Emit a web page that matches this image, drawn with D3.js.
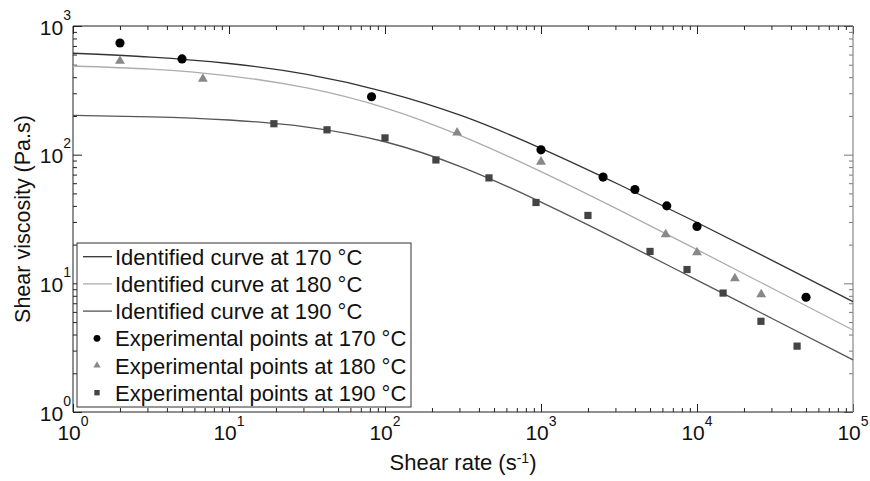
<!DOCTYPE html>
<html>
<head>
<meta charset="utf-8">
<script src="https://cdn.jsdelivr.net/npm/d3@7"></script>
<style>
  body { margin: 0; background: #fff; }
  svg text { font-family: "Liberation Sans", Arial, Helvetica, sans-serif; fill: #111; }
</style>
</head>
<body>
<svg id="chart" width="870" height="481"></svg>
<script>
// Identified (fitted) viscosity curves, sampled every half decade of shear rate
const curveRates = [1, 3.16, 10, 31.6, 100, 316, 1000, 3160, 10000, 31600, 100000];
const curve170 = [614, 573, 511, 420, 308, 199, 112, 58.6, 29.7, 14.7, 7.21];
const curve180 = [489, 462, 410, 330, 231, 138, 73.8, 37.2, 18.3, 8.91, 4.34];
const curve190 = [202, 197, 186, 164, 126, 79.3, 42.8, 21.6, 10.6, 5.19, 2.54];

// Experimental measurements (shear rate in 1/s, viscosity in Pa.s)
const rates170 = [2, 5, 82, 1000, 2500, 4000, 6400, 10000, 50000];
const visc170 = [738, 555, 282, 109, 67, 53.6, 40, 27.7, 7.8];
const rates180 = [2, 6.8, 290, 1000, 6300, 10000, 17500, 25800];
const visc180 = [535, 388, 148, 88, 24, 17.4, 10.9, 8.2];
const rates190 = [19.4, 42.5, 100, 212, 464, 929, 2000, 5000, 8630, 14700, 25700, 43800];
const visc190 = [174, 156, 135, 91, 66, 42.5, 33.7, 17.7, 12.8, 8.4, 5.07, 3.25];

// Decade exponents used for the tick labels
const xTickExps = [0, 1, 2, 3, 4, 5];
const yTickExps = [0, 1, 2, 3];

const legendLabels = [
  "Identified curve at 170 °C",
  "Identified curve at 180 °C",
  "Identified curve at 190 °C",
  "Experimental points at 170 °C",
  "Experimental points at 180 °C",
  "Experimental points at 190 °C"
];

const svg = d3.select("#chart");
const plotLeft = 73, plotRight = 853, plotTop = 26, plotBottom = 412;

const x = d3.scaleLog().domain([1, 1e5]).range([plotLeft, plotRight]);
const y = d3.scaleLog().domain([1, 1e3]).range([plotBottom, plotTop]);

function decadeTicks(lo, hi) {
  const major = [], minor = [];
  for (let e = lo; e <= hi; e++) {
    major.push(Math.pow(10, e));
    if (e < hi) for (let m = 2; m <= 9; m++) minor.push(m * Math.pow(10, e));
  }
  return { major, minor };
}
const xt = decadeTicks(0, 5);
const yt = decadeTicks(0, 3);

// Inward ticks on all four sides
function tickLayer(axisFn, scale, values, size, transform, color) {
  const g = svg.append("g").attr("transform", transform)
    .call(axisFn(scale).tickValues(values).tickSize(-size).tickFormat(""));
  g.select(".domain").remove();
  g.selectAll(".tick line").attr("stroke", color).attr("stroke-width", 1);
}
[[xt.major, 8], [xt.minor, 4]].forEach(([v, s]) => {
  tickLayer(d3.axisBottom, x, v, s, `translate(0,${plotBottom})`, "#222");
  tickLayer(d3.axisTop, x, v, s, `translate(0,${plotTop})`, "#222");
});
[[yt.major, 9], [yt.minor, 4]].forEach(([v, s]) => {
  tickLayer(d3.axisLeft, y, v, s, `translate(${plotLeft},0)`, "#222");
  tickLayer(d3.axisRight, y, v, s, `translate(${plotRight},0)`, "#777");
});

// Plot frame
svg.append("path")
  .attr("d", `M${plotLeft},${plotBottom}V${plotTop}H${plotRight}`)
  .attr("fill", "none").attr("stroke", "#222").attr("stroke-width", 1);
svg.append("path")
  .attr("d", `M${plotLeft},${plotBottom}H${plotRight}`)
  .attr("fill", "none").attr("stroke", "#222").attr("stroke-width", 1.2);
svg.append("path")
  .attr("d", `M${plotRight},${plotTop}V${plotBottom}`)
  .attr("fill", "none").attr("stroke", "#888").attr("stroke-width", 1.2);

// Tick labels as powers of ten
xTickExps.forEach(e => {
  const t = svg.append("text")
    .attr("x", x(Math.pow(10, e))).attr("y", 440)
    .attr("text-anchor", "middle").attr("font-size", 21);
  t.append("tspan").text("10");
  t.append("tspan").attr("font-size", 14).attr("dy", -14).text(e);
});
yTickExps.forEach(e => {
  const t = svg.append("text")
    .attr("x", 71).attr("y", y(Math.pow(10, e)) + 8.5)
    .attr("text-anchor", "end").attr("font-size", 21);
  t.append("tspan").text("10");
  t.append("tspan").attr("font-size", 14).attr("dy", -15).text(e);
});

// Axis titles
const xTitle = svg.append("text")
  .attr("x", (plotLeft + plotRight) / 2).attr("y", 470)
  .attr("text-anchor", "middle").attr("font-size", 22);
xTitle.append("tspan").text("Shear rate (s");
xTitle.append("tspan").attr("font-size", 14).attr("dy", -7).text("-1");
xTitle.append("tspan").attr("dy", 7).text(")");

svg.append("text")
  .attr("transform", `translate(30,${(plotTop + plotBottom) / 2}) rotate(-90)`)
  .attr("text-anchor", "middle").attr("font-size", 21.5)
  .text("Shear viscosity (Pa.s)");

// Fitted curves
const curveStyles = [
  { vals: curve170, color: "#333" },
  { vals: curve180, color: "#adadad" },
  { vals: curve190, color: "#555" }
];
const line = d3.line()
  .x(d => x(d[0])).y(d => y(d[1]))
  .curve(d3.curveNatural);
curveStyles.forEach(c => {
  svg.append("path")
    .datum(curveRates.map((r, i) => [r, c.vals[i]]))
    .attr("d", line)
    .attr("fill", "none").attr("stroke", c.color).attr("stroke-width", 1.3);
});

// Measured points
const pointSets = [
  { rates: rates170, vals: visc170, type: d3.symbolCircle, size: 66, color: "#000" },
  { rates: rates180, vals: visc180, type: d3.symbolTriangle, size: 42, color: "#888" },
  { rates: rates190, vals: visc190, type: d3.symbolSquare, size: 52, color: "#444" }
];
pointSets.forEach(p => {
  svg.append("g").selectAll("path")
    .data(p.rates.map((r, i) => [r, p.vals[i]]))
    .join("path")
    .attr("transform", d => `translate(${x(d[0])},${y(d[1])})`)
    .attr("d", d3.symbol().type(p.type).size(p.size))
    .attr("fill", p.color);
});

// Legend
const lg = svg.append("g");
lg.append("rect")
  .attr("x", 77).attr("y", 243).attr("width", 334).attr("height", 164)
  .attr("fill", "#fff").attr("stroke", "#333").attr("stroke-width", 1);
const rowY = i => 256.7 + i * 27.2;
legendLabels.forEach((label, i) => {
  const cy = rowY(i);
  if (i < 3) {
    lg.append("line")
      .attr("x1", 83).attr("x2", 112).attr("y1", cy).attr("y2", cy)
      .attr("stroke", curveStyles[i].color).attr("stroke-width", 1.3);
  } else {
    const p = pointSets[i - 3];
    lg.append("path")
      .attr("transform", `translate(97,${cy})`)
      .attr("d", d3.symbol().type(p.type).size(p.size * 0.55))
      .attr("fill", p.color);
  }
  lg.append("text")
    .attr("x", 115).attr("y", cy + 8)
    .attr("font-size", 22)
    .text(label);
});
</script>
</body>
</html>
